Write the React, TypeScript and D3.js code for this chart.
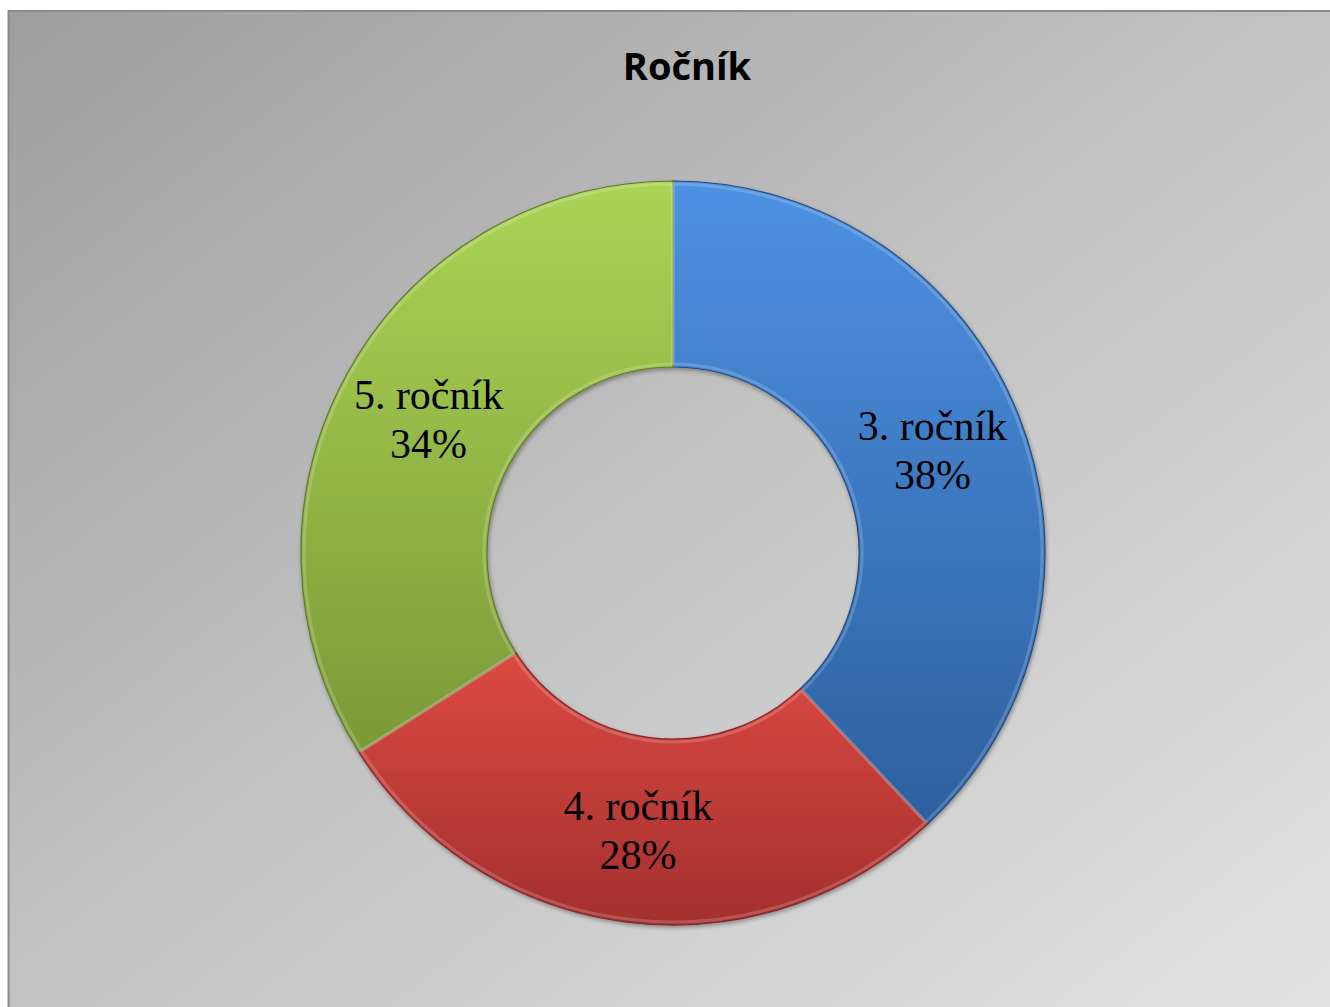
import React from "react";
import * as d3 from "d3";

const categories = ["3. ročník", "4. ročník", "5. ročník"];
const values = [38, 28, 34];
const title = "Ročník";

const palette = [
  { top: "#4d91e2", bottom: "#2d609f", edge: "#244e82" },
  { top: "#dc4a42", bottom: "#a32f2e", edge: "#862626" },
  { top: "#abd455", bottom: "#7b9937", edge: "#617a2b" },
];

export default function App() {
  const W = 1330;
  const H = 1007;
  const cx = 673;
  const cy = 553;
  const outerR = 372;
  const innerR = 186;

  const pie = d3.pie<number>().sort(null).value((d) => d);
  const arcs = pie(values);
  const arcGen = d3.arc<d3.PieArcDatum<number>>().innerRadius(innerR).outerRadius(outerR);
  const hiArc = d3.arc<d3.PieArcDatum<number>>().innerRadius(innerR + 3).outerRadius(outerR - 3);
  const midArc = d3
    .arc<d3.PieArcDatum<number>>()
    .innerRadius((innerR + outerR) / 2)
    .outerRadius((innerR + outerR) / 2);
  const total = d3.sum(values);

  return (
    <div style={{ position: "fixed", left: 0, top: 0, width: W, height: H, overflow: "hidden" }}>
      <svg width={W} height={H} style={{ display: "block" }}>
        <defs>
          <linearGradient id="bg" x1="0" y1="0" x2="1" y2="1">
            <stop offset="0" stopColor="#9e9e9e" />
            <stop offset="0.5" stopColor="#c4c4c4" />
            <stop offset="1" stopColor="#e4e4e4" />
          </linearGradient>
          {palette.map((p, i) => (
            <linearGradient key={i} id={`g${i}`} x1="0" y1="0" x2="0" y2="1">
              <stop offset="0" stopColor={p.top} />
              <stop offset="1" stopColor={p.bottom} />
            </linearGradient>
          ))}
          <filter id="sh" x="-10%" y="-10%" width="120%" height="120%">
            <feGaussianBlur in="SourceAlpha" stdDeviation="2" />
            <feOffset dx="1" dy="2" result="o" />
            <feComponentTransfer>
              <feFuncA type="linear" slope="0.35" />
            </feComponentTransfer>
            <feMerge>
              <feMergeNode />
              <feMergeNode in="SourceGraphic" />
            </feMerge>
          </filter>
        </defs>
        <rect x={8.5} y={11} width={W + 20} height={H + 20} fill="url(#bg)" stroke="#8a8a8a" strokeWidth={2} />
        <text
          x={687}
          y={80}
          textAnchor="middle"
          fontFamily="'Open Sans', 'Liberation Sans', sans-serif"
          fontWeight="bold"
          fontSize={38}
          fill="#000"
        >
          {title}
        </text>
        <g transform={`translate(${cx},${cy})`}>
          <g filter="url(#sh)">
            {arcs.map((a, i) => (
              <path key={i} d={arcGen(a) || ""} fill={`url(#g${i})`} stroke={palette[i].edge} strokeWidth={1.2} />
            ))}
          </g>
          {arcs.map((a, i) => (
            <path
              key={"h" + i}
              d={hiArc(a) || ""}
              fill="none"
              stroke="#ffffff"
              strokeOpacity={0.18}
              strokeWidth={3}
            />
          ))}
          {arcs.map((a, i) => {
            const [x, y] = midArc.centroid(a);
            const pct = Math.round((values[i] / total) * 100) + "%";
            return (
              <text
                key={"t" + i}
                x={x}
                y={y}
                textAnchor="middle"
                fontFamily="'Liberation Serif', 'Times New Roman', serif"
                fontSize={42}
                fill="#000"
              >
                <tspan x={x} dy={-10}>
                  {categories[i]}
                </tspan>
                <tspan x={x} dy={49}>
                  {pct}
                </tspan>
              </text>
            );
          })}
        </g>
      </svg>
    </div>
  );
}
